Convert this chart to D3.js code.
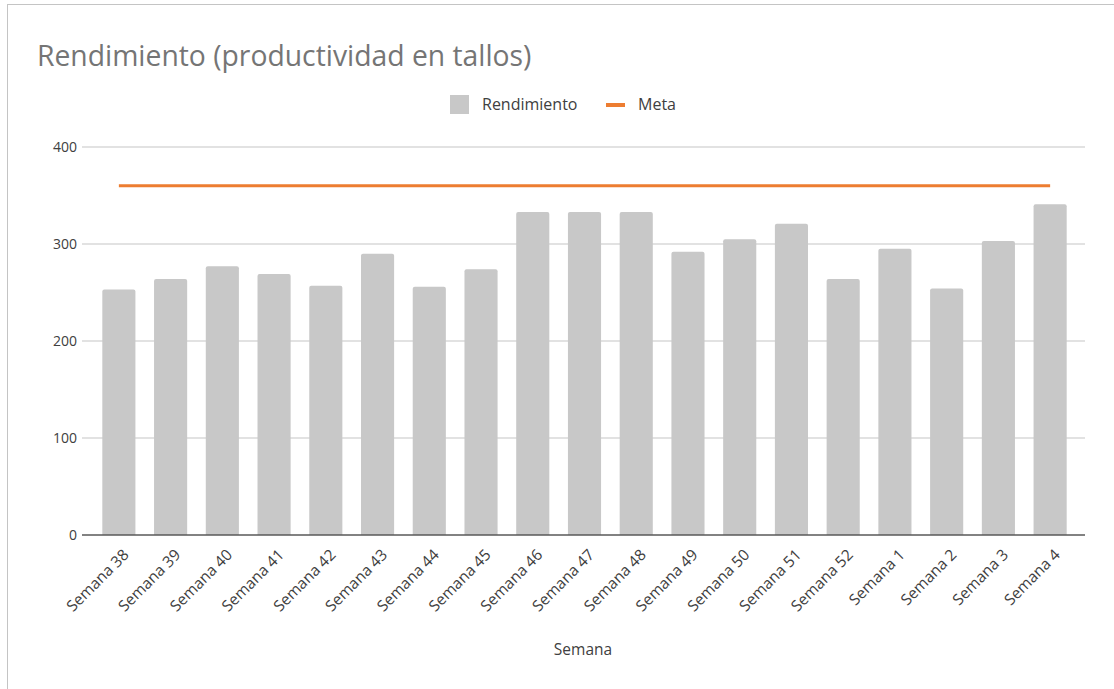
<!DOCTYPE html>
<html><head><meta charset="utf-8">
<script src="https://cdn.jsdelivr.net/npm/d3@7"></script>
<style>body{margin:0;background:#fff;} svg{display:block;font-family:"Open Sans",sans-serif;}</style>
</head><body>
<svg id="c" width="1114" height="689"></svg>
<script>
const categories = ["Semana 38","Semana 39","Semana 40","Semana 41","Semana 42","Semana 43","Semana 44","Semana 45","Semana 46","Semana 47","Semana 48","Semana 49","Semana 50","Semana 51","Semana 52","Semana 1","Semana 2","Semana 3","Semana 4"];
const rendimiento = [253,264,277,269,257,290,256,274,333,333,333,292,305,321,264,295,254,303,341];
const meta = [360,360,360,360,360,360,360,360,360,360,360,360,360,360,360,360,360,360,360];
const yTicks = [0,100,200,300,400];

const svg = d3.select("#c");
// frame
svg.append("rect").attr("x",7.5).attr("y",4.5).attr("width",1114).attr("height",700)
  .attr("fill","none").attr("stroke","#c4c4c4");

const gridX0 = 82, gridX1 = 1085;
const x = d3.scaleBand().domain(categories).range([93, 1076]).paddingInner(0.36).paddingOuter(0.18);
const y = d3.scaleLinear().domain([0,400]).range([535,147]);

svg.append("text").attr("x",37).attr("y",66).attr("font-size",28.3).attr("fill","#757575")
  .text("Rendimiento (productividad en tallos)");

// grid
svg.append("g").selectAll("line").data(yTicks.filter(d=>d>0)).join("line")
  .attr("x1",gridX0).attr("x2",gridX1).attr("y1",d=>y(d)).attr("y2",d=>y(d))
  .attr("stroke","#d9d9d9").attr("stroke-width",1.3);

// y labels
svg.append("g").selectAll("text").data(yTicks).join("text")
  .attr("x",77).attr("y",d=>y(d)+5).attr("text-anchor","end")
  .attr("font-size",14).attr("fill","#404040").text(d=>d);

// bars
const bw = x.bandwidth();
svg.append("g").selectAll("path").data(categories).join("path")
  .attr("fill","#c8c8c8")
  .attr("d",(c,i)=>{
    const x0 = x(c), y0 = y(rendimiento[i]), r = 2;
    return `M${x0},${y(0)}V${y0+r}Q${x0},${y0} ${x0+r},${y0}H${x0+bw-r}Q${x0+bw},${y0} ${x0+bw},${y0+r}V${y(0)}Z`;
  });

// axis line
svg.append("line").attr("x1",gridX0).attr("x2",gridX1).attr("y1",y(0)).attr("y2",y(0))
  .attr("stroke","#595959").attr("stroke-width",1.3);

// meta line
const line = d3.line().x((d,i)=>x(categories[i])+bw/2).y(d=>y(d));
svg.append("path").datum(meta).attr("d",line).attr("fill","none")
  .attr("stroke","#ed7d31").attr("stroke-width",3);

// x labels
svg.append("g").selectAll("text").data(categories).join("text")
  .attr("transform",c=>`translate(${x(c)+bw/2+7},${y(0)+17}) rotate(-45)`)
  .attr("text-anchor","end").attr("font-size",15.5).attr("fill","#404040")
  .attr("dy","0.35em").text(c=>c);

// axis title
svg.append("text").attr("x",583).attr("y",655).attr("text-anchor","middle")
  .attr("font-size",15.5).attr("fill","#404040").text("Semana");

// legend
const lg = svg.append("g");
lg.append("rect").attr("x",450).attr("y",95).attr("width",19).attr("height",19).attr("fill","#c8c8c8");
lg.append("text").attr("x",482).attr("y",110).attr("font-size",16).attr("fill","#404040").text("Rendimiento");
lg.append("line").attr("x1",606).attr("x2",625).attr("y1",105).attr("y2",105).attr("stroke","#ed7d31").attr("stroke-width",4);
lg.append("text").attr("x",638).attr("y",110).attr("font-size",16).attr("fill","#404040").text("Meta");
</script>
</body></html>
